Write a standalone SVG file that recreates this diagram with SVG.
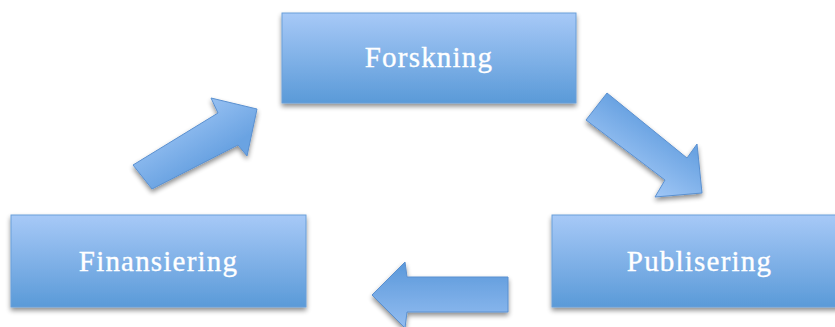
<svg xmlns="http://www.w3.org/2000/svg" width="835" height="327" viewBox="0 0 835 327">
<defs>
<linearGradient id="boxg" x1="0" y1="0" x2="0" y2="1">
<stop offset="0" stop-color="#a7c9f7"/>
<stop offset="1" stop-color="#5a9ad8"/>
</linearGradient>
<linearGradient id="arrL" x1="0" y1="0" x2="0" y2="1">
<stop offset="0" stop-color="#5a98da"/>
<stop offset="1" stop-color="#93bdf1"/>
</linearGradient>
<linearGradient id="arrUR" gradientUnits="userSpaceOnUse" x1="170" y1="115" x2="200" y2="165">
<stop offset="0" stop-color="#9cc4f4"/>
<stop offset="1" stop-color="#6aa3e2"/>
</linearGradient>
<linearGradient id="arrDR" gradientUnits="userSpaceOnUse" x1="660" y1="130" x2="630" y2="175">
<stop offset="0" stop-color="#6aa3e2"/>
<stop offset="1" stop-color="#9cc4f4"/>
</linearGradient>
<filter id="sh" x="-10%" y="-10%" width="120%" height="130%">
<feGaussianBlur in="SourceAlpha" stdDeviation="2.5"/>
<feOffset dx="0" dy="3" result="b"/>
<feComponentTransfer><feFuncA type="linear" slope="0.45"/></feComponentTransfer>
<feMerge><feMergeNode/><feMergeNode in="SourceGraphic"/></feMerge>
</filter>
</defs>
<style>
.box{fill:url(#boxg);stroke:#6b9fd9;stroke-width:1;filter:url(#sh)}
.lbl{font-family:"Liberation Serif","DejaVu Serif",serif;font-size:29px;fill:#ffffff;stroke:#ffffff;stroke-width:0.35px;text-anchor:middle;letter-spacing:1.2px}
.arr{stroke:#5a90d0;stroke-width:1;stroke-linejoin:miter;filter:url(#sh)}
</style>
<g id="connectors">
<polygon class="arr" fill="url(#arrUR)" points="133,165 218,113 211,98 257,109 247,156 238,145 152,189"/>
<polygon class="arr" fill="url(#arrDR)" points="607,93 687,158 697,144 702,193 655,197 665,180 586,120"/>
<polygon class="arr" fill="url(#arrL)" points="372,295 405,262 407,277 508,277 508,312 407,312 405,328"/>
</g>
<g id="forskning">
<rect class="box" x="282" y="13" width="294" height="90"/>
<text class="lbl" x="429" y="67">Forskning</text>
</g>
<g id="finansiering">
<rect class="box" x="11" y="215" width="295" height="92"/>
<text class="lbl" x="158.5" y="271">Finansiering</text>
</g>
<g id="publisering">
<rect class="box" x="552" y="215" width="295" height="92"/>
<text class="lbl" x="699.5" y="271">Publisering</text>
</g>
</svg>
